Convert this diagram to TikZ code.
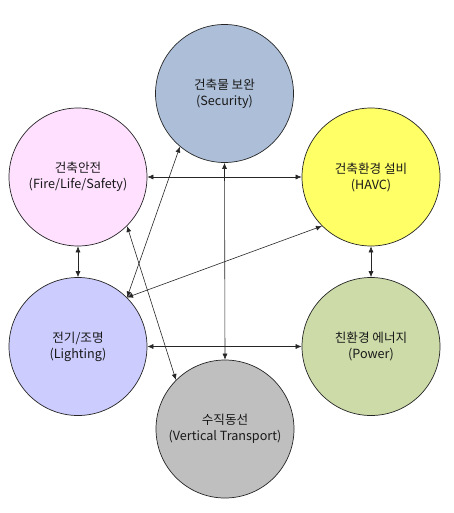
\documentclass[tikz,border=0pt]{standalone}
\usepackage{fontspec}
\setmainfont{Noto Sans CJK KR}
\usetikzlibrary{arrows.meta}
\definecolor{secblue}{RGB}{173,191,216}
\definecolor{firepink}{RGB}{255,224,255}
\definecolor{havcyellow}{RGB}{255,255,102}
\definecolor{lightlav}{RGB}{204,204,255}
\definecolor{powgreen}{RGB}{204,219,168}
\definecolor{vtgray}{RGB}{191,191,191}
\begin{document}
\begin{tikzpicture}[
  x=1pt, y=-1pt,
  area/.style={draw=black!85, line width=0.7pt, circle, minimum size=138pt, inner sep=0pt,
    align=center, font=\fontsize{12.6}{16}\selectfont, text=black!90},
  link/.style={draw=black!85, line width=0.6pt, {Latex[length=6pt,width=5pt]}-{Latex[length=6pt,width=5pt]}}
  ]
	\useasboundingbox (0,0) rectangle (454,513);

	\node[area, fill=secblue] (sec) at (224.5,93.5) {건축물 보완\\(Security)};
	\node[area, fill=firepink] (fire) at (78,177) {건축안전\\(Fire/Life/Safety)};
	\node[area, fill=havcyellow] (havc) at (371,177) {건축환경 설비\\(HAVC)};

	\node[area, fill=lightlav] (light) at (78,346.5) {전기/조명\\(Lighting)};
	\node[area, fill=powgreen] (power) at (371,346.5) {친환경 에너지\\(Power)};
	\node[area, fill=vtgray] (vert) at (225,429) {수직동선\\(Vertical Transport)};

	\draw[link] (fire) -- (havc);
	\draw[link] (light) -- (power);

	\draw[link] (fire) -- (light);
	\draw[link] (havc) -- (power);
	\draw[link] (sec.south) -- (vert.north);

	\draw[link] (light.45) -- (sec.230);
	\draw[link] (light.45) -- (havc.225);
	\draw[link] (fire.315) -- (vert.135);
\end{tikzpicture}
\end{document}
